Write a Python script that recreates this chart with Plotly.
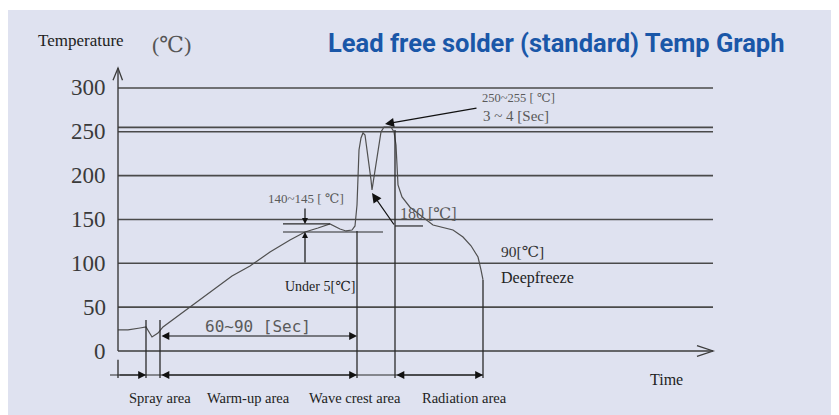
import plotly.graph_objects as go

# ---------------- data ----------------
time_pts = [0, 10, 22, 28, 34, 40, 45, 57, 72, 87, 102, 114, 132, 152, 172, 187, 200, 212,
            222, 228, 234, 237, 239, 240, 241, 243, 245, 247, 250, 253, 254, 257, 260, 263,
            266, 273, 276, 278, 279, 280, 284, 292, 302, 315, 335, 345, 353, 360, 363, 365]
temp_pts = [24.0, 24.0, 26.2, 27.4, 16.0, 20.5, 27.4, 37.6, 50.2, 62.7, 75.3, 85.5, 96.9, 112.9,
            126.6, 135.7, 140.3, 144.9, 139.2, 136.9, 138.0, 142.6, 166.5, 206.5, 229.3, 243.0,
            248.7, 246.4, 223.6, 195.1, 183.7, 206.5, 229.3, 249.8, 255.5, 255.5, 249.8, 235.0,
            212.2, 189.4, 175.7, 164.0, 155.1, 143.7, 138.0, 130.0, 120.0, 107.2, 92.4, 81.0]

ytick_vals = [0, 50, 100, 150, 200, 250, 300]
ytick_text = ["0", "50", "100", "150", "200", "250", "300"]
grid_temps = [50, 100, 150, 200, 250, 255, 300]

zone_bounds = [0, 28, 42, 239, 277, 365]          # zone boundary times
zone_names = ["Spray area", "Warm-up area", "Wave crest area", "Radiation area"]
zone_label_t = [42, 130, 237, 346]

title = "Lead free solder (standard) Temp Graph"

# ---------------- layout constants ----------------
X_END = 595          # end of time axis
Y_TOP = 322.8        # top of temperature axis arrow
ROW = -27.4          # zone arrow row
LINE = "#3c3c3c"
GRAY = "#5a5a5a"
SERIF = "Liberation Serif, DejaVu Serif, serif"
W, H = 831, 407

fig = go.Figure()

# profile curve
fig.add_trace(go.Scatter(x=time_pts, y=temp_pts, mode="lines",
                         line=dict(color="#505050", width=1.2), hoverinfo="skip"))

shapes = []
# background panel
shapes.append(dict(type="rect", xref="paper", yref="paper", x0=0, x1=1, y0=0, y1=(H - 2) / H,
                   fillcolor="#dfe2f0", line=dict(width=0), layer="below"))
# gridlines
for g in grid_temps:
    shapes.append(dict(type="line", x0=0, x1=X_END, y0=g, y1=g,
                       line=dict(color="#4a4a4a", width=1.6)))
# axes
shapes.append(dict(type="line", x0=0, x1=0, y0=0, y1=Y_TOP, line=dict(color=LINE, width=1.4)))
shapes.append(dict(type="line", x0=0, x1=X_END, y0=0, y1=0, line=dict(color=LINE, width=1.4)))
# axis open arrowheads
shapes.append(dict(type="path", path=f"M -5,{Y_TOP-14} L 0,{Y_TOP} L 4.5,{Y_TOP-14}",
                   line=dict(color=LINE, width=1.3)))
shapes.append(dict(type="path", path=f"M {X_END-16},6 L {X_END},0 L {X_END-16},-6",
                   line=dict(color=LINE, width=1.3)))
# zone boundary lines
bound_tops = [-10, 35.4, 35.4, 137, 252, 81]
for b, top in zip(zone_bounds, bound_tops):
    shapes.append(dict(type="line", x0=b, x1=b, y0=top, y1=-30.8,
                       line=dict(color="#2a2a2a", width=1.3)))
# zone row line
shapes.append(dict(type="line", x0=-8, x1=365, y0=ROW, y1=ROW, line=dict(color="#2a2a2a", width=1.2)))
# 140~145 bracket lines
shapes.append(dict(type="line", x0=165, x1=212, y0=144.9, y1=144.9, line=dict(color="#2a2a2a", width=1.2)))
shapes.append(dict(type="line", x0=165, x1=265, y0=135.7, y1=135.7, line=dict(color="#2a2a2a", width=1.2)))
# 180 line
shapes.append(dict(type="line", x0=277, x1=305, y0=142.6, y1=142.6, line=dict(color="#2a2a2a", width=1.2)))

annotations = []

def arrow(x, y, ax, ay, both=False, size=1.0, head=2):
    d = dict(x=x, y=y, ax=ax, ay=ay, xref="x", yref="y", axref="x", ayref="y", text="",
             showarrow=True, arrowhead=head, arrowsize=size, arrowwidth=1.2,
             arrowcolor="#111111", standoff=0, startstandoff=0)
    if both:
        d.update(arrowside="end+start", startarrowhead=head, startarrowsize=size)
    annotations.append(d)

# zone arrows
arrow(28, ROW, 0, ROW, size=1.3)
arrow(239, ROW, 42, ROW, both=True, size=1.3)
arrow(365, ROW, 277, ROW, both=True, size=1.3)
# 60~90 sec arrow
arrow(239, 17.1, 42, 17.1, both=True, size=1.3)
# 250~255 arrow
arrow(267, 258.9, 360, 277.2, size=1.5)
# 180 arrow
arrow(254, 180.2, 277, 142.6, size=1.6)
# 140~145 small arrows
arrow(187, 144.9, 187, 164.3, size=1.0)
arrow(187, 135.7, 187, 99.2, size=1.0)

def text(t, x, y, size, color="#222222", family=SERIF, xanchor="center", bold=False):
    annotations.append(dict(x=x, y=y, xref="x", yref="y", text=(f"<b>{t}</b>" if bold else t),
                            showarrow=False, xanchor=xanchor, yanchor="middle",
                            font=dict(size=size, color=color, family=family)))

# y tick labels
for v, s in zip(ytick_vals, ytick_text):
    text(s, -10, v, 23, color="#3a3a3a", xanchor="right")
# zone labels
for n, t in zip(zone_names, zone_label_t):
    text(n, t, -53.6, 14.5)
text("Time", 548, -33, 16)
text("Temperature", -37, 354.7, 17)
text("(℃)", 53, 350, 22, color="#555555")
text(title, 438, 351.3, 25.5, color="#1a57a8", family="Roboto, Arial, sans-serif", bold=True)
text("140~145 [ ℃]", 188, 174.5, 13, color=GRAY)
text("Under 5[℃]", 239, 74.1, 14, xanchor="right")
text("180 [℃]", 280, 156.3, 16, color=GRAY, xanchor="left")
text("250~255 [ ℃]", 362, 288.6, 12.5, color=GRAY, xanchor="left")
text("3 ~ 4 [Sec]", 363, 268.3, 15, color=GRAY, xanchor="left")
text("90[℃]", 381, 114, 15.5, color="#333333", xanchor="left")
text("Deepfreeze", 381, 83.3, 16, color="#222222", xanchor="left")
text("60~90 [Sec]", 140, 28.5, 16, color=GRAY, family="DejaVu Sans Mono, Liberation Mono, monospace")

fig.update_layout(
    width=W, height=H,
    margin=dict(l=0, r=0, t=0, b=0),
    paper_bgcolor="white", plot_bgcolor="rgba(0,0,0,0)",
    showlegend=False,
    xaxis=dict(range=[-110, 721], visible=False, fixedrange=True),
    yaxis=dict(range=[-73.0, 391.2], visible=False, fixedrange=True),
    shapes=shapes, annotations=annotations,
)

fig.write_html("out.html")
